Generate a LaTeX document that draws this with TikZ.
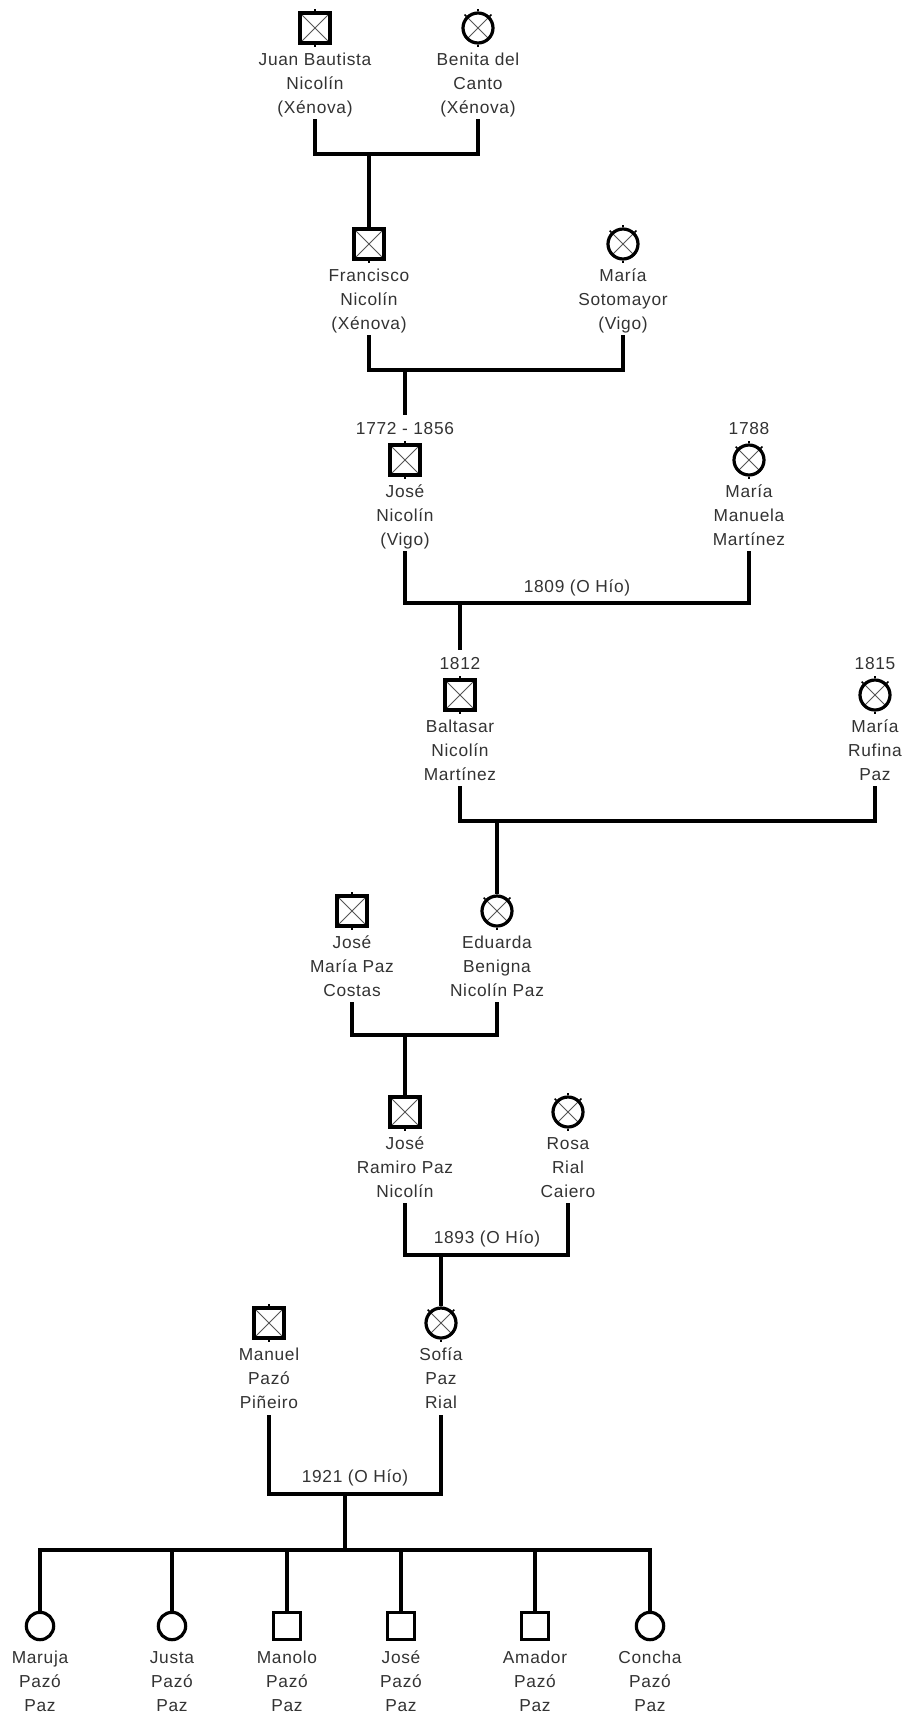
\documentclass[tikz,border=0pt]{standalone}
\usepackage{fontspec}
\setmainfont{Liberation Sans}[LetterSpace=4.0]
\usetikzlibrary{calc}
\definecolor{txt}{HTML}{333333}
\definecolor{xline}{HTML}{555555}
\newcommand{\mticks}[1]{\draw[symtick] (#1.north) -- ++(0,-2); \draw[symtick] (#1.south) -- ++(0,2);}
\newcommand{\fticks}[1]{\foreach \a in {45,90,135,270} {\draw[symtick] (#1.\a) -- ($(#1.center)!1.14!(#1.\a)$);}}
\begin{document}
\begin{tikzpicture}[x=0.75pt,y=-0.75pt,
  conn/.style={line width=2.4pt, draw=black},
  msym/.style={rectangle, draw=black, line width=2.4pt, minimum size=22.5pt, inner sep=0pt},
  fsym/.style={circle, draw=black, line width=2.4pt, minimum size=22.5pt, inner sep=0pt},
  kid/.style={minimum size=20.5pt},
  xed/.style={path picture={\draw[line width=0.6pt, xline]
      (path picture bounding box.north west) -- (path picture bounding box.south east)
      (path picture bounding box.north east) -- (path picture bounding box.south west);}},
  symtick/.style={line width=1.2pt, draw=black},
  nametext/.style={anchor=north, align=center, font=\fontsize{13pt}{18pt}\selectfont, text=txt, inner sep=0pt},
  datetext/.style={anchor=base, font=\fontsize{13pt}{18pt}\selectfont, text=txt, inner sep=0pt}]
\useasboundingbox (0,0) rectangle (903,1718);
\fill[white] (0,0) rectangle (903,1718);

% ---------- Generation 1
\node[msym,xed] (juan) at (315,28) {};
\node[fsym,xed] (benita) at (478,28) {};
\node[nametext] (juanT) at ($(juan)+(0,20)$) {\strut Juan Bautista\\Nicolín\\(Xénova)};
\node[nametext] (benitaT) at ($(benita)+(0,20)$) {\strut Benita del\\Canto\\(Xénova)};

% ---------- Generation 2
\node[msym,xed] (francisco) at (369,244) {};
\node[fsym,xed] (msoto) at (623,244) {};
\node[nametext] (franciscoT) at ($(francisco)+(0,20)$) {\strut Francisco\\Nicolín\\(Xénova)};
\node[nametext] (msotoT) at ($(msoto)+(0,20)$) {\strut María\\Sotomayor\\(Vigo)};

% ---------- Generation 3
\node[msym,xed] (josen) at (405,460) {};
\node[fsym,xed] (mmanuela) at (749,460) {};
\node[datetext] (josenD) at ($(josen)+(0,-26)$) {1772 - 1856};
\node[datetext] (mmanuelaD) at ($(mmanuela)+(0,-26)$) {1788};
\node[nametext] (josenT) at ($(josen)+(0,20)$) {\strut José\\Nicolín\\(Vigo)};
\node[nametext] (mmanuelaT) at ($(mmanuela)+(0,20)$) {\strut María\\Manuela\\Martínez};

% ---------- Generation 4
\node[msym,xed] (baltasar) at (460,695) {};
\node[fsym,xed] (mrufina) at (875,695) {};
\node[datetext] (baltasarD) at ($(baltasar)+(0,-26)$) {1812};
\node[datetext] (mrufinaD) at ($(mrufina)+(0,-26)$) {1815};
\node[nametext] (baltasarT) at ($(baltasar)+(0,20)$) {\strut Baltasar\\Nicolín\\Martínez};
\node[nametext] (mrufinaT) at ($(mrufina)+(0,20)$) {\strut María\\Rufina\\Paz};

% ---------- Generation 5
\node[msym,xed] (josemaria) at (352,911) {};
\node[fsym,xed] (eduarda) at (497,911) {};
\node[nametext] (josemariaT) at ($(josemaria)+(0,20)$) {\strut José\\María Paz\\Costas};
\node[nametext] (eduardaT) at ($(eduarda)+(0,20)$) {\strut Eduarda\\Benigna\\Nicolín Paz};

% ---------- Generation 6
\node[msym,xed] (joseramiro) at (405,1112) {};
\node[fsym,xed] (rosa) at (568,1112) {};
\node[nametext] (joseramiroT) at ($(joseramiro)+(0,20)$) {\strut José\\Ramiro Paz\\Nicolín};
\node[nametext] (rosaT) at ($(rosa)+(0,20)$) {\strut Rosa\\Rial\\Caiero};

% ---------- Generation 7
\node[msym,xed] (manuel) at (269,1323) {};
\node[fsym,xed] (sofia) at (441,1323) {};
\node[nametext] (manuelT) at ($(manuel)+(0,20)$) {\strut Manuel\\Pazó\\Piñeiro};
\node[nametext] (sofiaT) at ($(sofia)+(0,20)$) {\strut Sofía\\Paz\\Rial};

% ---------- Generation 8 (children)
\node[fsym,kid] (maruja) at (40,1626) {};
\node[fsym,kid] (justa) at (172,1626) {};
\node[msym,kid] (manolo) at (287,1626) {};
\node[msym,kid] (jose) at (401,1626) {};
\node[msym,kid] (amador) at (535,1626) {};
\node[fsym,kid] (concha) at (650,1626) {};
\node[nametext] (marujaT) at ($(maruja)+(0,20)$) {\strut Maruja\\Pazó\\Paz};
\node[nametext] (justaT) at ($(justa)+(0,20)$) {\strut Justa\\Pazó\\Paz};
\node[nametext] (manoloT) at ($(manolo)+(0,20)$) {\strut Manolo\\Pazó\\Paz};
\node[nametext] (joseT) at ($(jose)+(0,20)$) {\strut José\\Pazó\\Paz};
\node[nametext] (amadorT) at ($(amador)+(0,20)$) {\strut Amador\\Pazó\\Paz};
\node[nametext] (conchaT) at ($(concha)+(0,20)$) {\strut Concha\\Pazó\\Paz};

% ---------- symbol ticks
\foreach \n in {juan,francisco,josen,baltasar,josemaria,joseramiro,manuel} {\mticks{\n}}
\foreach \n in {benita,msoto,mmanuela,mrufina,eduarda,rosa,sofia} {\fticks{\n}}

% ---------- connectors
\coordinate (m1) at (369,154);
\draw[conn] ($(juan)+(0,91)$) |- (m1) -| ($(benita)+(0,91)$);
\draw[conn] (m1) -- (francisco.north);

\coordinate (m2) at (405,370);
\draw[conn] ($(francisco)+(0,91)$) |- (m2) -| ($(msoto)+(0,91)$);
\draw[conn] (m2) -- ($(josen)+(0,-45)$);

\coordinate (m3) at (460,603);
\draw[conn] ($(josen)+(0,91)$) |- (m3) -| ($(mmanuela)+(0,91)$);
\draw[conn] (m3) -- ($(baltasar)+(0,-45)$);
\node[datetext] (mar1) at (577,592) {1809 (O Hío)};

\coordinate (m4) at (497,821);
\draw[conn] ($(baltasar)+(0,91)$) |- (m4) -| ($(mrufina)+(0,91)$);
\draw[conn] (m4) -- (eduarda.north);

\coordinate (m5) at (405,1035);
\draw[conn] ($(josemaria)+(0,91)$) |- (m5) -| ($(eduarda)+(0,91)$);
\draw[conn] (m5) -- (joseramiro.north);

\coordinate (m6) at (441,1255);
\draw[conn] ($(joseramiro)+(0,91)$) |- (m6) -| ($(rosa)+(0,91)$);
\draw[conn] (m6) -- (sofia.north);
\node[datetext] (mar2) at (487,1243) {1893 (O Hío)};

\coordinate (m7) at (345,1494);
\draw[conn] ($(manuel)+(0,92)$) |- (m7) -| ($(sofia)+(0,92)$);
\node[datetext] (mar3) at (355,1482) {1921 (O Hío)};
\coordinate (bus) at (345,1550);
\draw[conn] (m7) -- (bus);
\draw[conn] (maruja.north) |- (bus) -| (concha.north);
\foreach \n in {justa,manolo,jose,amador} {\draw[conn] (\n.north) -- (\n.north |- bus);}
\end{tikzpicture}
\end{document}
